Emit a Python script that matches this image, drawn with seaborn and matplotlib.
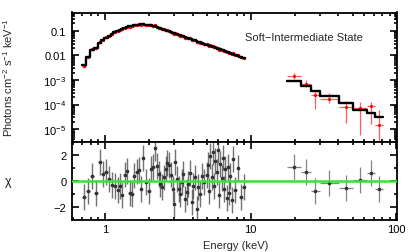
import numpy as np
import pandas as pd
import matplotlib
matplotlib.use("Agg")
import matplotlib.pyplot as plt
import seaborn as sns
from matplotlib.ticker import FixedLocator, LogLocator, NullFormatter, MultipleLocator, FixedFormatter

# ---------------- data ----------------
# soft band (keV bin centres), model flux, residual chi
soft_energy = [0.721, 0.768, 0.818, 0.872, 0.920, 0.964, 1.016, 1.070, 1.117, 1.166,
               1.222, 1.268, 1.314, 1.365, 1.409, 1.484, 1.539, 1.589, 1.651, 1.712,
               1.766, 1.815, 1.902, 1.995, 2.069, 2.146, 2.214, 2.286, 2.348, 2.396,
               2.474, 2.541, 2.610, 2.677, 2.763, 2.838, 2.915, 2.976, 3.038, 3.120,
               3.205, 3.287, 3.377, 3.447, 3.558, 3.637, 3.730, 3.831, 3.936, 4.036,
               4.146, 4.259, 4.368, 4.487, 4.610, 4.780, 4.989, 5.092, 5.198, 5.298,
               5.399, 5.512, 5.626, 5.733, 5.852, 5.965, 6.079, 6.205, 6.324, 6.455,
               6.578, 6.714, 6.855, 6.985, 7.130, 7.267, 7.442, 7.621, 7.866, 8.182,
               8.579, 8.995]
soft_model = [0.0040, 0.0089, 0.017, 0.020, 0.033, 0.042, 0.052, 0.062, 0.075, 0.087,
              0.099, 0.110, 0.118, 0.128, 0.137, 0.150, 0.158, 0.165, 0.172, 0.178,
              0.180, 0.180, 0.177, 0.171, 0.164, 0.156, 0.1485, 0.139, 0.1315, 0.126,
              0.1179, 0.1114, 0.1054, 0.0999, 0.0936, 0.0885, 0.0836, 0.0801, 0.0768, 0.0726,
              0.0686, 0.0651, 0.0615, 0.0590, 0.0552, 0.0527, 0.0500, 0.0473, 0.0447, 0.0424,
              0.0401, 0.0379, 0.0359, 0.0340, 0.0321, 0.0298, 0.0272, 0.0261, 0.0250, 0.0240,
              0.0231, 0.0221, 0.0212, 0.0204, 0.0195, 0.0188, 0.0180, 0.0173, 0.0166, 0.0159,
              0.0153, 0.0147, 0.0140, 0.0135, 0.0129, 0.0124, 0.0118, 0.0112, 0.0105, 0.0097,
              0.0088, 0.0080]
soft_chi = [-1.27, -0.79, 0.40, -0.94, 1.48, 0.56, 0.69, 0.13, -0.33, -0.43,
            -0.71, -0.40, -1.07, 0.49, 0.74, -0.94, -1.00, 0.41, 0.72, 0.82,
            -0.66, 1.79, -0.12, -0.76, 0.95, 1.07, 2.55, 1.15, 0.51, -0.25,
            -0.50, 0.26, 0.95, 1.40, 1.20, 0.49, -0.63, -1.78, 1.45, 0.13,
            -0.63, -1.00, -0.12, 0.56, -1.40, -0.89, -0.25, 0.64, -1.60, -0.38,
            0.26, -2.16, -0.50, -1.00, 0.38, -0.12, 0.43, 1.2, -0.8, 1.9,
            0.3, 2.2, -0.4, 1.5, 0.7, 2.4, -1.1, 1.3, 0.2, 1.8,
            -0.6, 0.9, -1.3, 1.1, -0.9, 0.4, -1.5, 1.7, -0.7, 1.0,
            -1.27, -0.46]
soft_rel_err = 0.04   # fractional flux error of the soft data

# hard band: bin edges (keV), model, data and its error range, residual
hard_edges = [17.66, 22.03, 25.82, 29.90, 40.36, 50.60, 63.14, 71.30, 80.54]
hard_model = [8.8e-4, 5.5e-4, 3.7e-4, 2.15e-4, 1.16e-4, 6.2e-5, 4.6e-5, 3.1e-5]
hard_flux = [1.5e-3, 7.1e-4, 2.37e-4, 1.74e-4, 8.0e-5, 7.0e-5, 8.5e-5, 1.5e-5]
hard_flux_lo = [1.13e-3, 5.2e-4, 6.6e-5, 1.16e-4, 1.8e-5, 6.0e-6, 1.65e-5, 1.0e-6]
hard_flux_hi = [1.93e-3, 9.6e-4, 4.0e-4, 2.95e-4, 1.35e-4, 1.23e-4, 1.23e-4, 5.8e-5]
hard_chi = [1.10, 0.69, -0.81, -0.18, -0.56, 0.05, 0.59, -0.63]

flux_ticks = [1e-5, 1e-4, 1e-3, 1e-2, 1e-1]
flux_ticklabels = [r"$10^{-5}$", r"$10^{-4}$", r"$10^{-3}$", "0.01", "0.1"]
chi_ticks = [-2, 0, 2]
energy_ticks = [1, 10, 100]
energy_ticklabels = ["1", "10", "100"]

# ---------------- derived arrays ----------------
se = np.array(soft_energy)
s_mid = np.sqrt(se[:-1] * se[1:])
soft_edges = np.concatenate([[se[0] ** 2 / s_mid[0]], s_mid, [se[-1] ** 2 / s_mid[-1]]])
sm = np.array(soft_model)
sc = np.array(soft_chi)
s_flux = sm * (1 + soft_rel_err * sc)
s_err = sm * soft_rel_err

he = np.array(hard_edges)
h_cent = np.sqrt(he[:-1] * he[1:])
hm = np.array(hard_model)

# ---------------- style ----------------
sns.set_theme(style="ticks")
plt.rcParams['font.family'] = ['Liberation Sans', 'DejaVu Sans']
plt.rcParams['mathtext.fontset'] = 'custom'
plt.rcParams['mathtext.rm'] = 'Liberation Sans'
plt.rcParams['mathtext.it'] = 'Liberation Sans:italic'
plt.rcParams['mathtext.bf'] = 'Liberation Sans:bold'
FS = 8

fig = plt.figure(figsize=(4.15, 2.53), dpi=100)
W, H = 415.0, 253.0
L, R = 72.0, 396.7
ax1 = fig.add_axes([L / W, 1 - 143.0 / H, (R - L) / W, (143.0 - 13.5) / H])
ax2 = fig.add_axes([L / W, 1 - 220.7 / H, (R - L) / W, (220.7 - 143.0) / H])

# ---------------- upper panel ----------------
ax1.errorbar(se, s_flux, xerr=[se - soft_edges[:-1], soft_edges[1:] - se], yerr=s_err,
             fmt='none', ecolor='red', elinewidth=1.0, zorder=2)
sns.scatterplot(x=se, y=s_flux, color='red', s=6, linewidth=0, ax=ax1, zorder=2)
ax1.errorbar(h_cent, hard_flux, xerr=[h_cent - he[:-1], he[1:] - h_cent],
             yerr=[np.array(hard_flux) - np.array(hard_flux_lo),
                   np.array(hard_flux_hi) - np.array(hard_flux)],
             fmt='none', ecolor=(1, 0.25, 0.25, 0.85), elinewidth=0.9, zorder=2)
sns.scatterplot(x=h_cent, y=hard_flux, color='red', s=5, linewidth=0, ax=ax1, zorder=2)

soft_step = pd.DataFrame({"E": soft_edges, "F": np.append(sm, sm[-1])})
hard_step = pd.DataFrame({"E": he, "F": np.append(hm, hm[-1])})
sns.lineplot(data=soft_step, x="E", y="F", drawstyle='steps-post', color='black',
             lw=1.7, estimator=None, ax=ax1, zorder=3)
sns.lineplot(data=hard_step, x="E", y="F", drawstyle='steps-post', color='black',
             lw=1.7, estimator=None, ax=ax1, zorder=3)

ax1.set_xscale('log')
ax1.set_yscale('log')
ax1.set_xlim(0.594, 100.5)
ax1.set_ylim(3e-6, 0.55)
ax1.yaxis.set_major_locator(FixedLocator(flux_ticks))
ax1.yaxis.set_major_formatter(FixedFormatter(flux_ticklabels))
ax1.yaxis.set_minor_locator(LogLocator(base=10, subs=np.arange(2, 10)))
ax1.yaxis.set_minor_formatter(NullFormatter())
ax1.set_xlabel("")
ax1.set_ylabel("")
ax1.tick_params(axis='x', which='both', labelbottom=False)
ax1.text(0.532, 0.81, "Soft\u2212Intermediate State", transform=ax1.transAxes,
         fontsize=FS, ha='left', va='center')

# ---------------- lower panel ----------------
ax2.errorbar(se, sc, xerr=[se - soft_edges[:-1], soft_edges[1:] - se], yerr=1.0,
             fmt='none', ecolor=(0.15, 0.15, 0.15, 0.65), elinewidth=1.0, zorder=2)
ax2.errorbar(h_cent, hard_chi, xerr=[h_cent - he[:-1], he[1:] - h_cent], yerr=1.0,
             fmt='none', ecolor=(0.2, 0.2, 0.2, 0.6), elinewidth=0.9, zorder=2)
sns.scatterplot(x=np.concatenate([se, h_cent]), y=np.concatenate([sc, hard_chi]),
                color='#333333', s=7, linewidth=0, ax=ax2, zorder=3)
ax2.axhline(0, color='#33e633', lw=1.8, zorder=4)

ax2.set_xscale('log')
ax2.set_xlim(0.594, 100.5)
ax2.set_ylim(-3, 3)
ax2.yaxis.set_major_locator(FixedLocator(chi_ticks))
ax2.yaxis.set_minor_locator(MultipleLocator(1))
ax2.xaxis.set_major_locator(FixedLocator(energy_ticks))
ax2.xaxis.set_major_formatter(FixedFormatter(energy_ticklabels))
ax2.set_xlabel("")
ax2.set_ylabel("")

for ax in (ax1, ax2):
    ax.xaxis.set_minor_locator(LogLocator(base=10, subs=np.arange(2, 10)))
    ax.xaxis.set_minor_formatter(NullFormatter())
    ax.tick_params(which='both', direction='in', top=True, right=True,
                   width=1.2, colors='black', labelsize=FS, pad=4)
    ax.tick_params(which='major', length=5)
    ax.tick_params(which='minor', length=2.5)
    for sp in ax.spines.values():
        sp.set_linewidth(1.3)
        sp.set_color('black')
ax2.tick_params(axis='x', which='major', pad=3)

fig.text(8 / W, 1 - 78 / H, r"Photons cm$^{-2}$ s$^{-1}$ keV$^{-1}$", rotation=90,
         ha='center', va='center', fontsize=FS)
fig.text(8 / W, 1 - 181.7 / H, "\u03c7", ha='center', va='center', fontsize=FS + 1)
fig.text(236 / W, 1 - 246 / H, "Energy (keV)", ha='center', va='center', fontsize=FS)

fig.savefig("out.png", dpi=100)
